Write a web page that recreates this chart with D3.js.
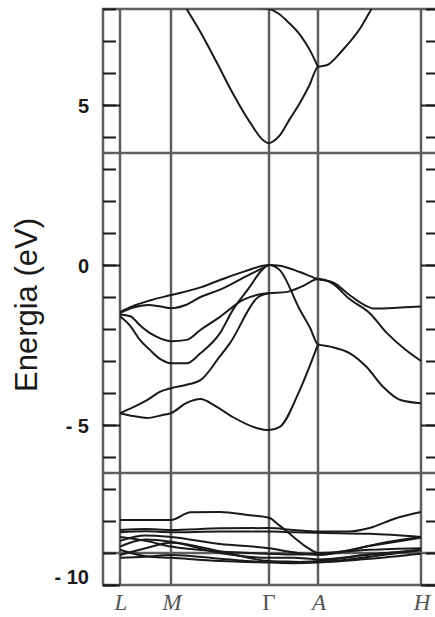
<!DOCTYPE html>
<html>
<head>
<meta charset="utf-8">
<script src="https://cdn.jsdelivr.net/npm/d3@7"></script>
<style>
  body { margin: 0; background: #fff; }
</style>
</head>
<body>
<svg id="chart" width="435" height="617"></svg>
<script>
// High-symmetry points along the k-path.
const kLabels = ["L", "M", "Γ", "A", "H"];
const kPoints = [0, 1, 2, 3, 4];
// Energy ticks (eV).
const majorTicks = [5, 0, -5, -10];
const minorTicks = d3.range(-10, 9);
// Horizontal separator lines (eV).
const panelLines = [3.5, -6.5, -9];

// Bands as [k, E] pairs.
const conductionBands = [
  [[1.0, 8.87], [1.16, 8.0], [1.3, 7.28], [1.47, 6.31], [1.63, 5.37], [1.81, 4.44], [1.94, 3.9], [2, 3.81],
   [2.1, 3.88], [2.22, 4.05], [2.42, 4.55], [2.63, 5.06], [2.82, 5.6], [3, 6.19], [3.09, 6.25], [3.24, 6.72],
   [3.41, 7.4], [3.52, 8.0], [3.65, 8.6]],
  [[1.9, 8.03], [2, 8.0], [2.2, 7.85], [2.37, 7.62], [2.63, 7.2], [2.84, 6.7], [3, 6.19]]
];

const valenceBands = [
  [[0, -1.47], [0.26, -1.28], [0.6, -1.1], [1, -0.94], [1.3, -0.7], [1.5, -0.47], [1.75, -0.2], [2, 0],
   [2.22, -0.02], [2.63, -0.22], [3, -0.44], [3.15, -0.55], [3.3, -0.92], [3.45, -1.25], [3.55, -1.36],
   [3.8, -1.33], [4, -1.3]],
  [[0, -1.5], [0.26, -1.33], [0.55, -1.25], [0.8, -1.3], [1, -1.35], [1.15, -1.25], [1.3, -1.0], [1.5, -0.77],
   [1.75, -0.38], [2, 0]],
  [[0, -1.55], [0.2, -1.6], [0.39, -1.88], [0.59, -2.13], [0.8, -2.3], [1, -2.38], [1.16, -2.34], [1.3, -2.03],
   [1.5, -1.62], [1.735, -1.09], [1.94, -0.9], [2, -0.88], [2.37, -0.84], [2.7, -0.65], [3, -0.44],
   [3.15, -0.6], [3.3, -1.05], [3.5, -1.5], [3.67, -2.13], [3.85, -2.65], [4, -3.0]],
  [[0, -1.6], [0.2, -1.9], [0.39, -2.34], [0.59, -2.66], [0.8, -2.95], [1, -3.07], [1.16, -3.07], [1.3, -2.76],
   [1.5, -2.13], [1.63, -1.41], [1.8, -0.7], [1.91, -0.22], [2, 0], [2.22, -0.16], [2.63, -1.4], [2.84, -1.97],
   [3, -2.48], [3.12, -2.55], [3.31, -2.76], [3.47, -3.18], [3.63, -3.8], [3.8, -4.22], [4, -4.32]],
  [[0, -4.63], [0.26, -4.44], [0.53, -4.22], [0.8, -3.95], [1, -3.85], [1.15, -3.75], [1.3, -3.6], [1.5, -2.85],
   [1.6, -2.45], [1.89, -1.0], [2, -0.88]],
  [[0, -4.63], [0.26, -4.72], [0.53, -4.78], [0.8, -4.7], [1, -4.63], [1.16, -4.31], [1.3, -4.19], [1.45, -4.4],
   [1.63, -4.75], [1.88, -5.1], [2, -5.16], [2.22, -5.06], [2.63, -3.9], [3, -2.48]]
];

const semicoreBands = [
  [[0, -7.97], [0.5, -7.97], [1, -7.97], [1.2, -7.73], [1.5, -7.72], [1.8, -7.82], [2, -7.9], [2.2, -8.12],
   [2.5, -8.5], [2.8, -8.85], [3, -9.0], [3.3, -8.92], [3.6, -8.7], [4, -8.5]],
  [[0, -8.28], [0.5, -8.25], [1, -8.28], [1.5, -8.23], [2, -8.22], [2.5, -8.28], [3, -8.33], [3.3, -8.33],
   [3.5, -8.22], [3.75, -7.92], [4, -7.72]],
  [[0, -8.35], [0.5, -8.32], [1, -8.35], [1.5, -8.33], [2, -8.33], [2.5, -8.35], [3, -8.37], [3.5, -8.4], [4, -8.5]],
  [[0, -8.5], [0.5, -8.62], [1, -8.8], [1.5, -8.95], [2, -9.02], [2.5, -9.05], [3, -9.02], [3.5, -8.9], [4, -8.85]],
  [[0, -8.62], [0.5, -8.45], [1, -8.5], [1.5, -8.72], [2, -8.85], [2.5, -8.98], [3, -9.06], [3.5, -8.78], [4, -8.52]],
  [[0, -8.8], [0.5, -8.58], [1, -8.65], [1.5, -9.0], [2, -9.15], [2.5, -9.15], [3, -9.2], [3.5, -9.05], [4, -8.9]],
  [[0, -9.06], [0.5, -8.85], [1, -8.68], [1.5, -8.95], [2, -9.25], [2.5, -9.27], [3, -9.28], [3.5, -9.12], [4, -8.9]],
  [[0, -9.15], [0.5, -9.12], [1, -9.06], [1.5, -9.18], [2, -9.28], [2.5, -9.28], [3, -9.25], [3.5, -9.05], [4, -8.92]],
  [[0, -8.9], [0.5, -9.1], [1, -9.15], [1.5, -9.25], [2, -9.3], [2.5, -9.32], [3, -9.3], [3.5, -9.18], [4, -9.02]]
];

// Frame edges in pixels.
const frame = { left: 103, right: 438, top: 9, bottom: 585 };
const grey = "#5f5f5f";
const ink = "#1a1a1a";

const svg = d3.select("#chart");

// k-path is piecewise linear: each segment has its own length.
const x = d3.scaleLinear().domain(kPoints).range([120, 171, 269, 318, 421]);
const y = d3.scaleLinear().domain([-10, 8]).range([frame.bottom, frame.top]);

// Clip the bands to the frame.
svg.append("clipPath")
  .attr("id", "plot-clip")
  .append("rect")
  .attr("x", frame.left)
  .attr("y", frame.top)
  .attr("width", frame.right - frame.left)
  .attr("height", frame.bottom - frame.top);

// Vertical lines at the high-symmetry points.
svg.append("g")
  .selectAll("line")
  .data(kPoints)
  .enter().append("line")
  .attr("x1", d => x(d))
  .attr("x2", d => x(d))
  .attr("y1", frame.top)
  .attr("y2", frame.bottom)
  .attr("stroke", grey)
  .attr("stroke-width", 2.5);

// Horizontal separators.
svg.append("g")
  .selectAll("line")
  .data(panelLines)
  .enter().append("line")
  .attr("x1", frame.left)
  .attr("x2", frame.right)
  .attr("y1", d => y(d))
  .attr("y2", d => y(d))
  .attr("stroke", grey)
  .attr("stroke-width", 2.5);

// Outer frame.
svg.append("rect")
  .attr("x", frame.left)
  .attr("y", frame.top)
  .attr("width", frame.right - frame.left)
  .attr("height", frame.bottom - frame.top)
  .attr("fill", "none")
  .attr("stroke", grey)
  .attr("stroke-width", 2.5);

// Ticks on both sides; the right side is cut off by the picture edge.
function addTicks(xPos, values, size, labelled) {
  const axis = d3.axisLeft(y)
    .tickValues(values)
    .tickSize(size)
    .tickFormat(labelled ? (d => d < 0 ? "- " + Math.abs(d) : d) : "");
  const g = svg.append("g")
    .attr("transform", `translate(${xPos},0)`)
    .call(axis);
  g.select(".domain").remove();
  g.selectAll(".tick line").attr("stroke", ink).attr("stroke-width", 2);
  // axisLeft with a negative size puts the ticks inside; keep the labels outside.
  g.selectAll(".tick text")
    .attr("x", -14)
    .attr("text-anchor", "end")
    .attr("fill", ink)
    .attr("font-family", "'Liberation Sans', Arial, sans-serif")
    .attr("font-weight", "bold")
    .attr("font-size", "20px")
    .attr("dy", d => d === -10 ? "-0.1em" : "0.36em");
}
addTicks(frame.left, minorTicks, -13, false);
addTicks(frame.left, majorTicks, -17, true);
addTicks(frame.right, minorTicks, 12, false);
addTicks(frame.right, majorTicks, 17, false);

// Bands.
const line = d3.line()
  .x(d => x(d[0]))
  .y(d => y(d[1]))
  .curve(d3.curveMonotoneX);

svg.append("g")
  .attr("clip-path", "url(#plot-clip)")
  .selectAll("path")
  .data([...conductionBands, ...valenceBands, ...semicoreBands])
  .enter().append("path")
  .attr("d", line)
  .attr("fill", "none")
  .attr("stroke", ink)
  .attr("stroke-width", 2);

// k-point labels.
svg.append("g")
  .selectAll("text")
  .data(kLabels)
  .enter().append("text")
  .attr("x", (d, i) => x(kPoints[i]) + (d === "Γ" ? 0 : 1))
  .attr("y", 610)
  .attr("text-anchor", "middle")
  .attr("font-family", "'Liberation Serif', 'Times New Roman', serif")
  .attr("font-style", d => d === "Γ" ? "normal" : "italic")
  .attr("font-size", "23px")
  .attr("fill", "#555")
  .text(d => d);

// Energy axis title.
svg.append("text")
  .attr("transform", "translate(37,305) rotate(-90)")
  .attr("text-anchor", "middle")
  .attr("font-family", "'Liberation Sans', Arial, sans-serif")
  .attr("font-size", "31px")
  .attr("fill", ink)
  .text("Energia (eV)");
</script>
</body>
</html>
